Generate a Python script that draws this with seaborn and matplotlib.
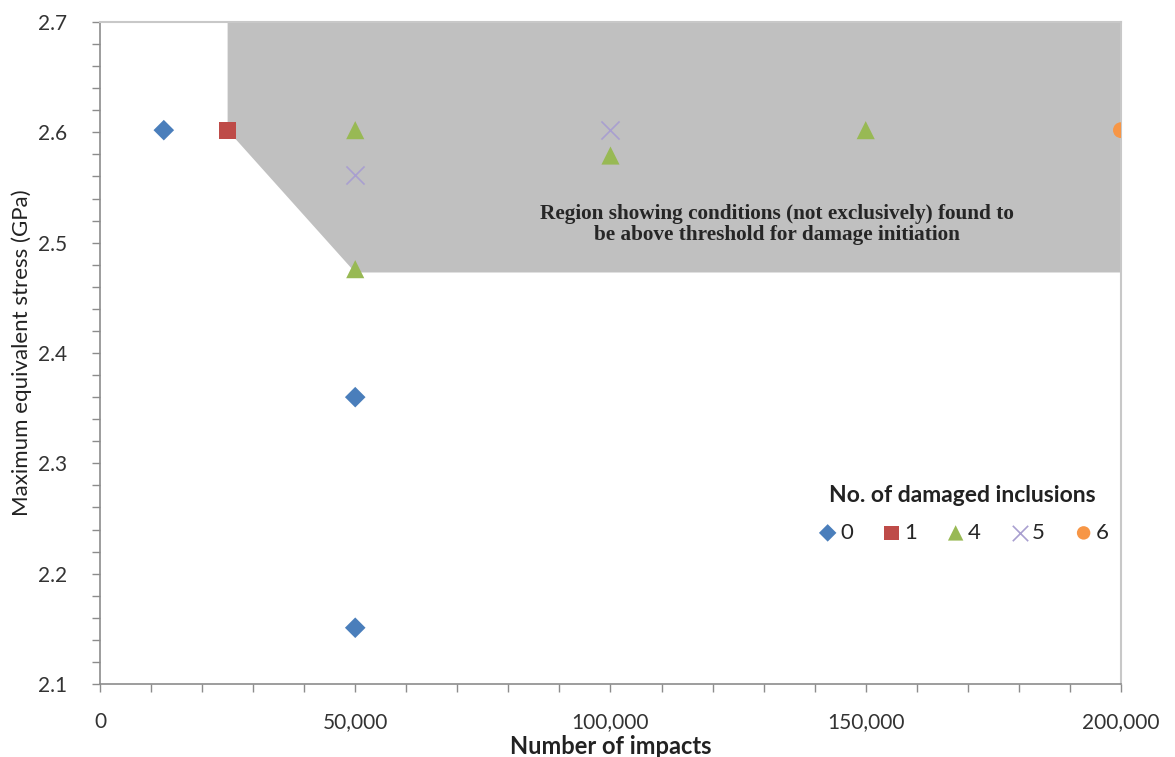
"""
Stress vs number of impacts, coloured by number of damaged inclusions.
Shaded region = conditions found above threshold for damage initiation.
"""

import numpy as np
import pandas as pd
import matplotlib.pyplot as plt
import matplotlib.ticker as mticker
import seaborn as sns

# data
impacts = [12500, 50000, 50000, 25000, 50000, 50000, 100000, 150000, 50000, 100000, 200000]
stress = [2.602, 2.360, 2.151, 2.602, 2.602, 2.476, 2.579, 2.602, 2.561, 2.602, 2.602]
damaged = ["0", "0", "0", "1", "4", "4", "4", "4", "5", "5", "6"]

groups = ["0", "1", "4", "5", "6"]
group_markers = ["D", "s", "^", "x", "o"]
group_colors = ["#4a7ebb", "#be4b48", "#98b954", "#a99fd0", "#f79646"]

# shaded threshold region (outline)
region_x = [25000, 25000, 50000, 200000, 200000]
region_y = [2.7, 2.602, 2.473, 2.473, 2.7]

region_text = ("Region showing conditions (not exclusively) found to\n"
               "be above threshold for damage initiation")

df = pd.DataFrame({"impacts": impacts, "stress": stress, "damaged": damaged})

sns.set_theme(style="white")
plt.rcParams["font.family"] = ["Lato", "DejaVu Sans"]

fig = plt.figure(figsize=(11.75, 7.57), dpi=100)
ax = fig.add_axes([0.0851, 0.0964, 0.8689, 0.8745])

ax.fill(region_x, region_y, color="#c0c0c0", lw=0, zorder=1)

sizes = {"D": 110, "s": 150, "^": 170, "x": 170, "o": 130}
for g, m, c in zip(groups, group_markers, group_colors):
    sub = df[df["damaged"] == g]
    kw = dict(edgecolor="none") if m != "x" else dict(linewidth=1.2)
    sns.scatterplot(data=sub, x="impacts", y="stress", marker=m, color=c,
                    s=sizes[m], label=g, ax=ax, zorder=3, **kw)

ax.text(0.663, 0.694, region_text, transform=ax.transAxes, ha="center", va="center",
        family="Liberation Serif", fontweight="bold", fontsize=15.3,
        linespacing=1.12, zorder=4)

ax.set_xlim(0, 200000)
ax.set_ylim(2.1, 2.7)
ax.xaxis.set_major_locator(mticker.MultipleLocator(50000))
ax.xaxis.set_minor_locator(mticker.MultipleLocator(10000))
ax.yaxis.set_major_locator(mticker.MultipleLocator(0.1))
ax.yaxis.set_minor_locator(mticker.MultipleLocator(0.02))
ax.xaxis.set_major_formatter(mticker.FuncFormatter(lambda v, p: f"{v:,.0f}"))
ax.yaxis.set_major_formatter(mticker.FormatStrFormatter("%.1f"))

ax.tick_params(axis="both", which="both", direction="out", color="#8c8c8c",
               labelsize=15, labelcolor="#333333")
ax.tick_params(axis="both", which="both", length=6, width=1)
ax.tick_params(axis="x", which="major", pad=14)
ax.tick_params(axis="y", which="major", pad=18)
ax.tick_params(axis="x", which="both", bottom=True)
ax.tick_params(axis="y", which="both", left=True)

for side in ["left", "bottom"]:
    ax.spines[side].set_color("#8c8c8c")
    ax.spines[side].set_linewidth(1.2)
for side in ["top", "right"]:
    ax.spines[side].set_color("#c8c8c8")
    ax.spines[side].set_linewidth(1.5)

ax.set_xlabel("Number of impacts", fontsize=17, fontweight="bold", color="#222222", labelpad=2)
ax.set_ylabel("Maximum equivalent stress (GPa)", fontsize=16, color="#222222", labelpad=4)

leg = ax.legend(title="No. of damaged inclusions", ncol=5, loc="center",
                bbox_to_anchor=(0.845, 0.257), frameon=False, fontsize=16,
                handletextpad=0.05, columnspacing=1.25, handlelength=1.0,
                markerscale=0.85, borderpad=0.2)
leg.get_title().set_fontweight("bold")
leg.get_title().set_fontsize(16.5)
leg.get_title().set_color("#222222")
leg._legend_box.sep = 12

fig.savefig("out.png", dpi=100)
